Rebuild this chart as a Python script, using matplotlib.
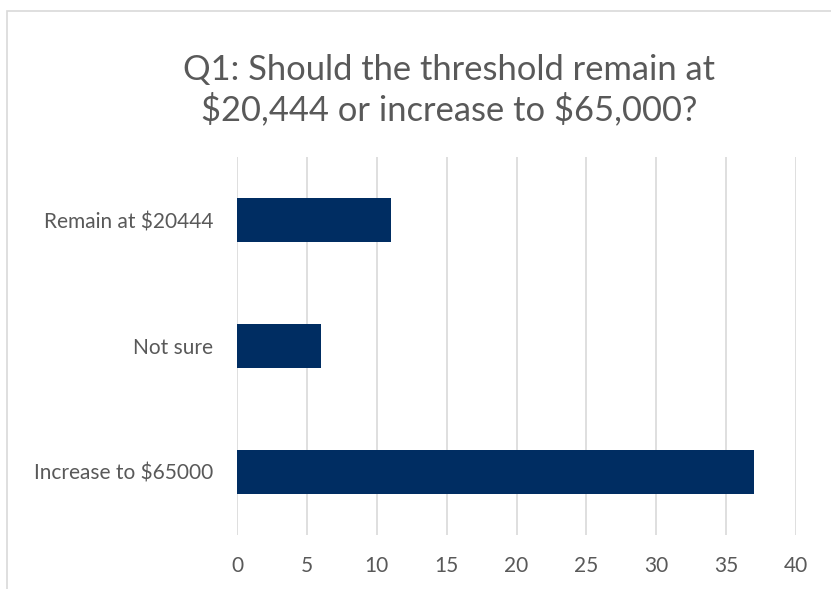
import matplotlib
matplotlib.use("Agg")
import matplotlib.pyplot as plt
from matplotlib.patches import Rectangle

# Survey answers, bottom to top as drawn
categories = ["Increase to \\$65000", "Not sure", "Remain at \\$20444"]
counts = [37, 6, 11]
x_ticks = [0, 5, 10, 15, 20, 25, 30, 35, 40]
title = "Q1: Should the threshold remain at\n\\$20,444 or increase to \\$65,000?"

text_color = "#595959"
grid_color = "#d9d9d9"
bar_color = "#002d62"

plt.rcParams["font.family"] = ["Lato", "DejaVu Sans"]

fig = plt.figure(figsize=(8.31, 5.89), dpi=100)
# chart-area border (only the left and top edges fall inside the picture)
fig.patches.append(Rectangle((6.5 / 831, -0.1), 1.2, 1.1 - 11.5 / 589, transform=fig.transFigure,
                             fill=False, edgecolor=grid_color, linewidth=1.2))

ax = fig.add_axes([237 / 831, 1 - 535 / 589, (796 - 237) / 831, (535 - 157) / 589])
ax.barh(range(len(categories)), counts, height=0.35, color=bar_color, zorder=3)

ax.set_xlim(0, 40)
ax.set_ylim(-0.5, len(categories) - 0.5)
ax.set_xticks(x_ticks)
ax.set_yticks(range(len(categories)))
ax.set_yticklabels(categories)
ax.grid(axis="x", color=grid_color, linewidth=1.2, zorder=0)
for side in ["top", "right", "bottom", "left"]:
    ax.spines[side].set_visible(False)
ax.tick_params(axis="both", length=0, labelsize=15, colors=text_color)
ax.tick_params(axis="x", pad=15)
ax.tick_params(axis="y", pad=17)

fig.text(449 / 831, 1 - 90 / 589, title, ha="center", va="center", fontsize=24.8,
         color=text_color, linespacing=1.25)

fig.savefig("out.png", dpi=100)
